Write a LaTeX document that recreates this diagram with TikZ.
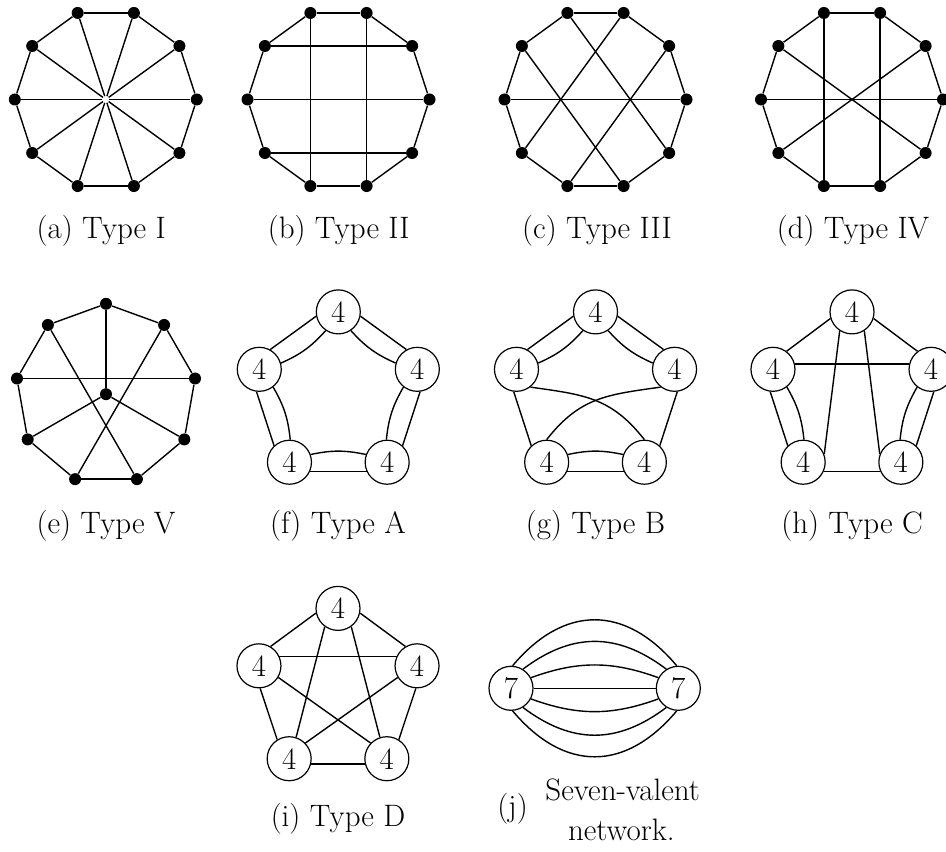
\documentclass[tikz,border=0pt]{standalone}
\usepackage{fontspec}
\newcommand{\mainfs}{\fontsize{15.5}{18.6}\selectfont}
\tikzset{
  vdot/.style={circle,fill=black,inner sep=0pt,minimum size=6pt},
  vnode/.style={circle,draw,line width=0.6pt,inner sep=0pt,minimum size=22pt,font=\mainfs},
  capt/.style={anchor=base,font=\mainfs,inner sep=0pt},
  edge/.style={line width=0.7pt},
}
% decagon of dots: name, cx, cy
\newcommand{\decag}[3]{%
  \begin{scope}[shift={(#2,#3)}]
    \foreach \k in {0,...,9} \node[vdot] (#1\k) at (\k*36:91) {};
    \foreach \k in {0,...,9}{\pgfmathtruncatemacro\nn{mod(\k+1,10)}\draw[edge] (#1\k) -- (#1\nn);}
  \end{scope}}
% pentagon of circled nodes
\newcommand{\pentag}[4]{%
  \begin{scope}[shift={(#2,#3)}]
    \foreach \k in {0,...,4} \node[vnode] (#1\k) at (90+72*\k:83.1) {#4};
  \end{scope}}
% double edge u v d
\newcommand{\dbledge}[3]{%
  \pgfmathsetmacro\aA{#3-25}\pgfmathsetmacro\aB{#3+205}%
  \pgfmathsetmacro\aC{#3+20}\pgfmathsetmacro\aD{#3+160}%
  \draw[edge] (#1.\aA) -- (#2.\aB);
  \draw[edge] (#1.\aC) to[bend left=12] (#2.\aD);}
\begin{document}
\begin{tikzpicture}[x=0.5pt,y=0.5pt]
\useasboundingbox (0,0) rectangle (946,851);
% (a) Type I
\decag{a}{105.8}{751.5}
\begin{scope}[shift={(105.8,751.5)}]
  \foreach \k in {0,...,9} \draw[edge] (a\k) -- (\k*36:3.5);
\end{scope}
% (b) Type II
\decag{b}{338.5}{751.5}
\draw[edge] (b3) -- (b7); \draw[edge] (b2) -- (b8);
\draw[edge] (b4) -- (b1); \draw[edge] (b5) -- (b0); \draw[edge] (b6) -- (b9);
% (c) Type III
\decag{c}{595.5}{751.5}
\draw[edge] (c3) -- (c9); \draw[edge] (c2) -- (c6);
\draw[edge] (c4) -- (c8); \draw[edge] (c1) -- (c7); \draw[edge] (c5) -- (c0);
% (d) Type IV
\decag{d}{852}{751.5}
\draw[edge] (d3) -- (d7); \draw[edge] (d2) -- (d8);
\draw[edge] (d5) -- (d0); \draw[edge] (d4) -- (d9); \draw[edge] (d1) -- (d6);
% (e) Type V
\begin{scope}[shift={(106,456.8)}]
  \foreach \k in {0,...,8} \node[vdot] (e\k) at (90-40*\k:90.4) {};
  \node[vdot] (ec) at (0,0) {};
  \foreach \k in {0,...,8}{\pgfmathtruncatemacro\nn{mod(\k+1,9)}\draw[edge] (e\k) -- (e\nn);}
\end{scope}
\draw[edge] (ec) -- (e0); \draw[edge] (ec) -- (e3); \draw[edge] (ec) -- (e6);
\draw[edge] (e7) -- (e2); \draw[edge] (e8) -- (e4); \draw[edge] (e1) -- (e5);
% (f) Type A
\pentag{f}{338.3}{456}{4}
\dbledge{f0}{f1}{216}\dbledge{f1}{f2}{288}\dbledge{f2}{f3}{0}
\dbledge{f3}{f4}{72}\dbledge{f4}{f0}{144}
% (g) Type B
\pentag{g}{595.5}{456}{4}
\dbledge{g0}{g1}{216}\dbledge{g2}{g3}{0}\dbledge{g4}{g0}{144}
\draw[edge] (g1.263) -- (g2.133);
\draw[edge] (g3.47) -- (g4.277);
\draw[edge] (g1.-52) to[out=-8,in=128,looseness=1.1] (g3.90);
\draw[edge] (g4.232) to[out=188,in=52,looseness=1.1] (g2.90);
% (h) Type C
\pentag{h}{852}{456}{4}
\dbledge{h1}{h2}{288}\dbledge{h3}{h4}{72}
\draw[edge] (h0.197) -- (h1.53);
\draw[edge] (h4.127) -- (h0.-17);
\draw[edge] (h1.14) -- (h4.166);
\draw[edge] (h0.-123) -- (h2.21);
\draw[edge] (h0.-57) -- (h3.159);
\draw[edge] (h2.-25) -- (h3.205);
% (i) Type D
\pentag{i}{338}{159.5}{4}
\draw[edge] (i0.192) -- (i1.59);
\draw[edge] (i0.-12) -- (i4.121);
\draw[edge] (i1.25) -- (i4.155);
\draw[edge] (i2.-13) -- (i3.193);
\draw[edge] (i0.-126) -- (i2.72);
\draw[edge] (i0.-54) -- (i3.108);
\draw[edge] (i1.-31) -- (i3.136);
\draw[edge] (i4.211) -- (i2.44);
\draw[edge] (i1.-87) -- (i2.122);
\draw[edge] (i4.267) -- (i3.58);
% (j) seven-valent
\node[vnode] (j1) at (511,162.7) {7};
\node[vnode] (j2) at (678.3,162.7) {7};
\draw[edge] (j1) -- (j2);
\draw[edge] (j1.28) to[out=20,in=160] (j2.152);
\draw[edge] (j1.-28) to[out=-20,in=-160] (j2.-152);
\draw[edge] (j1.58) to[out=37,in=143,looseness=1.1] (j2.122);
\draw[edge] (j1.-58) to[out=-37,in=-143,looseness=1.1] (j2.-122);
\draw[edge] (j1.86) to[out=50,in=130,looseness=1.25] (j2.94);
\draw[edge] (j1.-86) to[out=-50,in=-130,looseness=1.25] (j2.-94);
% captions
\node[capt] (ta) at (101.2,612.7) {(a) Type I};
\node[capt] (tb) at (338.7,612.7) {(b) Type II};
\node[capt] (tc) at (597,612.7) {(c) Type III};
\node[capt] (td) at (853,612.7) {(d) Type IV};
\node[capt] (te) at (106,317) {(e) Type V};
\node[capt] (tf) at (338,317) {(f) Type A};
\node[capt] (tg) at (595.5,317) {(g) Type B};
\node[capt] (th) at (852,317) {(h) Type C};
\node[capt] (ti) at (338,24.3) {(i) Type D};
\node[capt] (tj) at (512.5,34.3) {(j)};
\node[capt] (tj1) at (622.7,51) {Seven-valent};
\node[capt] (tj2) at (621.3,11) {network.};
\end{tikzpicture}
\end{document}
